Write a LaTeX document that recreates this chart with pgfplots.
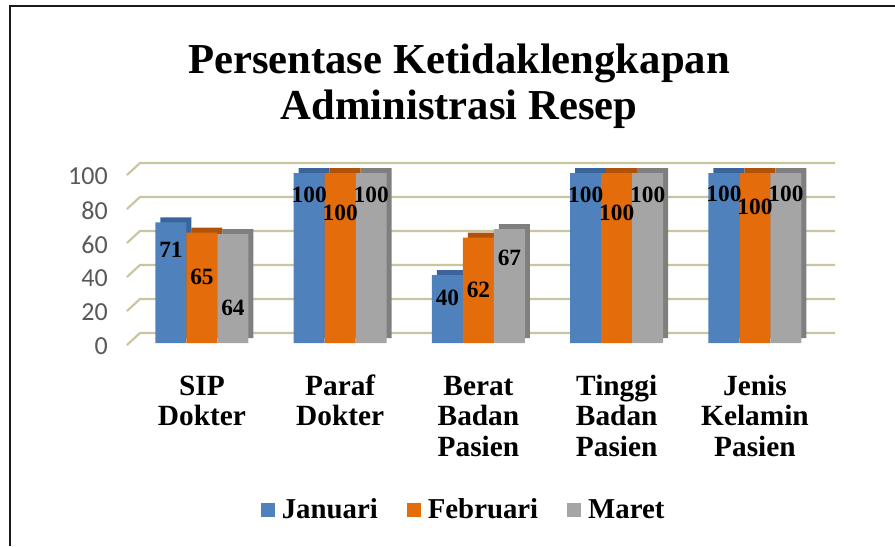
\documentclass[border=0pt]{standalone}
\usepackage{fontspec}
\setmainfont{Liberation Serif}
\newfontfamily\carlito{Carlito}
\usepackage{pgfplots}
\usepackage{pgfplotstable}
\pgfplotsset{compat=1.18}
\definecolor{cBlue}{HTML}{4F81BD}
\definecolor{cBlueD}{HTML}{3A659C}
\definecolor{cOrange}{HTML}{E46C0A}
\definecolor{cOrangeD}{HTML}{B0520A}
\definecolor{cGray}{HTML}{A5A5A5}
\definecolor{cGrayD}{HTML}{7F7F7F}
\definecolor{cGrid}{HTML}{CBC4A0}
\definecolor{cTick}{HTML}{595959}
\pgfplotstableread{
x jan feb mar
0 71 65 64
1 100 100 100
2 40 62 67
3 100 100 100
4 100 100 100
}\data
\begin{document}
\begin{tikzpicture}
\path[use as bounding box] (0,0) rectangle (671.25pt,-409.5pt);
\begin{scope}[x=0.75pt,y=-0.75pt]
\draw[line width=1.5pt, black!90] (10,546) -- (10,5.5) -- (895,5.5);
\node[font=\bfseries\fontsize{32}{34.5}\selectfont, anchor=base, inner sep=0pt] at (459,73) {Persentase Ketidaklengkapan};
\node[font=\bfseries\fontsize{32}{34.5}\selectfont, anchor=base, inner sep=0pt] at (459,119) {Administrasi Resep};
\end{scope}
\begin{axis}[
  at={(89.25pt,-257.25pt)}, anchor=south west,
  scale only axis, width=539.2pt, height=127.5pt,
  xmin=-0.6, xmax=4.6, ymin=0, ymax=100, clip=false,
  axis line style={draw=none}, major tick length=0pt,
  /pgf/number format/assume math mode=true,
  ytick={0,20,...,100},
  yticklabel style={font=\carlito\fontsize{19.5}{20}\selectfont, text=cTick, anchor=east, inner sep=0pt, xshift=-8.25pt, yshift=-2.5pt},
  xtick={0,...,4},
  xticklabels={{\strut SIP\\Dokter},{\strut Paraf\\Dokter},{\strut Berat\\Badan\\Pasien},{\strut Tinggi\\Badan\\Pasien},{\strut Jenis\\Kelamin\\Pasien}},
  xticklabel style={font=\bfseries\fontsize{22}{23}\selectfont, align=center, anchor=north, inner sep=0pt, yshift=-22.9pt},
  legend columns=3,
  legend style={draw=none, fill=none, at={(0.478,-0.982)}, anchor=center,
    font=\bfseries\fontsize{21.6}{22}\selectfont,
    /tikz/every odd column/.append style={column sep=5.25pt},
    /tikz/every even column/.append style={column sep=21.75pt},
    nodes={inner sep=0pt}},
  legend image code/.code={\fill[#1,draw=none] (0pt,-5.25pt) rectangle (10.5pt,5.25pt);},
]
% back-wall gridlines
\draw[cGrid, line width=1.6pt] (axis cs:-0.5425,-1.18) -- (axis cs:-0.4485,5.88) -- (axis cs:4.579,5.88);
\draw[cGrid, line width=1.6pt] (axis cs:-0.5425,18.82) -- (axis cs:-0.4485,25.88) -- (axis cs:4.579,25.88);
\draw[cGrid, line width=1.6pt] (axis cs:-0.5425,38.82) -- (axis cs:-0.4485,45.88) -- (axis cs:4.579,45.88);
\draw[cGrid, line width=1.6pt] (axis cs:-0.5425,58.82) -- (axis cs:-0.4485,65.88) -- (axis cs:4.579,65.88);
\draw[cGrid, line width=1.6pt] (axis cs:-0.5425,78.82) -- (axis cs:-0.4485,85.88) -- (axis cs:4.579,85.88);
\draw[cGrid, line width=1.6pt] (axis cs:-0.5425,98.82) -- (axis cs:-0.4485,105.88) -- (axis cs:4.579,105.88);
% depth faces
\addplot[ybar, bar width=23.25pt, bar shift=-19.5pt, yshift=3.75pt, fill=cBlueD, draw=none, forget plot] table[x=x,y=jan]{\data};
\addplot[ybar, bar width=23.25pt, bar shift=3.75pt, yshift=3.75pt, fill=cOrangeD, draw=none, forget plot] table[x=x,y=feb]{\data};
\addplot[ybar, bar width=23.25pt, bar shift=27pt, yshift=3.75pt, fill=cGrayD, draw=none, forget plot] table[x=x,y=mar]{\data};
% front faces
\addplot[ybar, bar width=23.25pt, bar shift=-23.25pt, fill=cBlue, draw=none] table[x=x,y=jan]{\data};
\addlegendentry{Januari}
\addplot[ybar, bar width=23.25pt, bar shift=0pt, fill=cOrange, draw=none] table[x=x,y=feb]{\data};
\addlegendentry{Februari}
\addplot[ybar, bar width=23.25pt, bar shift=23.25pt, fill=cGray, draw=none] table[x=x,y=mar]{\data};
\addlegendentry{Maret}
% data labels
\addplot[draw=none, mark=none, forget plot, nodes near coords, point meta=explicit symbolic,
  nodes near coords style={anchor=center, font=\bfseries\fontsize{17.5}{18}\selectfont, text=black, inner sep=0pt}]
  coordinates {
  (-0.2242,54.7)[71] (0,38.8)[65] (0.2242,20.6)[64]
  (0.7758,87)[100] (1,76.5)[100] (1.2242,87)[100]
  (1.7758,26.5)[40] (2,31)[62] (2.2242,50)[67]
  (2.7758,87)[100] (3,76.5)[100] (3.2242,87)[100]
  (3.7758,88)[100] (4,80)[100] (4.2242,88)[100]
  };
\end{axis}
\end{tikzpicture}
\end{document}
